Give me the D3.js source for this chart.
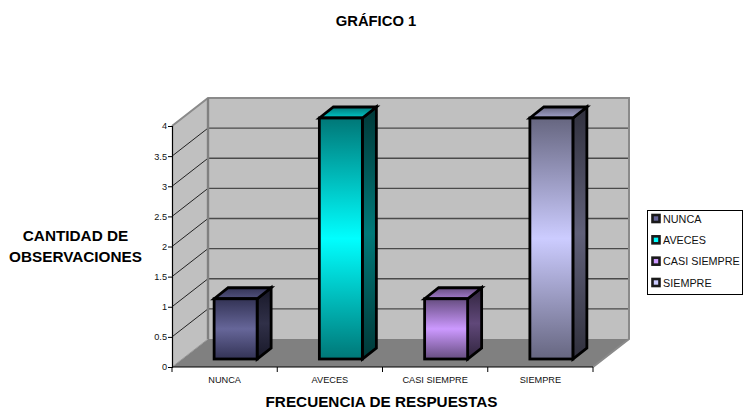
<!DOCTYPE html>
<html><head><meta charset="utf-8">
<script src="https://cdn.jsdelivr.net/npm/d3@7/dist/d3.min.js"></script>
<style>html,body{margin:0;background:#fff}svg{display:block}text{font-family:"Liberation Sans",Arial,sans-serif}</style>
</head><body><svg id="c" width="743" height="410"></svg>
<script>
const categories = ["NUNCA","AVECES","CASI SIEMPRE","SIEMPRE"];
const values = [1,4,1,4];
const yTicks = [0,0.5,1,1.5,2,2.5,3,3.5,4];
const edgeColors = ["#333355","#007777","#664d80","#666680"];
const midColors = ["#666699","#00ffff","#cc99ff","#ccccff"];

const svg = d3.select("#c");
const defs = svg.append("defs");
const x = d3.scaleBand().domain(categories).range([172,593]);
const y = d3.scaleLinear().domain([0,4]).range([367,126]);
const wallDx = 36, wallDy = -28;
const barDx = 14, barDy = -11, barOffX = 11, barOffY = -8, barW = 43;
const barY = v => y(v) + barOffY;
const [x0,x1] = x.range();
const pts = a => a.map(p=>p.join(",")).join(" ");

// walls
const g = svg.append("g");
g.append("polygon").attr("points",pts([[x0,y(0)],[x0+wallDx,y(0)+wallDy],[x1+wallDx,y(0)+wallDy],[x1,y(0)]])).attr("fill","#808080");
g.append("polygon").attr("points",pts([[x0,y(0)],[x0,y(4)],[x0+wallDx,y(4)+wallDy],[x0+wallDx,y(0)+wallDy]])).attr("fill","#c0c0c0");
g.append("rect").attr("x",x0+wallDx).attr("y",y(4)+wallDy).attr("width",x1-x0).attr("height",y(0)-y(4)).attr("fill","#c0c0c0");
yTicks.slice(1,-1).forEach(t=>{
  g.append("line").attr("x1",x0).attr("y1",y(t)).attr("x2",x0+wallDx).attr("y2",y(t)+wallDy).attr("stroke","#222").attr("stroke-width",1);
  g.append("line").attr("x1",x0+wallDx).attr("y1",y(t)+wallDy).attr("x2",x1+wallDx).attr("y2",y(t)+wallDy).attr("stroke","#4a4a4a").attr("stroke-width",1.3);
});
g.append("polyline").attr("points",pts([[x0,y(4)],[x0+wallDx,y(4)+wallDy],[x1+wallDx,y(4)+wallDy],[x1+wallDx,y(0)+wallDy],[x1,y(0)]])).attr("fill","none").attr("stroke","#8a8a8a").attr("stroke-width",2);
g.append("line").attr("x1",x0+wallDx).attr("y1",y(4)+wallDy).attr("x2",x0+wallDx).attr("y2",y(0)+wallDy).attr("stroke","#808080").attr("stroke-width",2.4);
g.append("line").attr("x1",x0).attr("y1",y(0)).attr("x2",x0+wallDx).attr("y2",y(0)+wallDy).attr("stroke","#999").attr("stroke-width",1);

// gradients
function grad(id,stops){
  const l = defs.append("linearGradient").attr("id",id).attr("x1",0).attr("y1",0).attr("x2",0).attr("y2",1);
  stops.forEach(([o,c])=>l.append("stop").attr("offset",o).attr("stop-color",c));
}
categories.forEach((c,i)=>{
  const e=edgeColors[i], m=midColors[i];
  const dark = k => d3.rgb(k).darker(2.1).formatHex();
  grad("f"+i,[[0,e],[0.5,m],[1,e]]);
  grad("s"+i,[[0,dark(e)],[0.5,dark(m)],[1,dark(e)]]);
  grad("t"+i,[[0,e],[1,d3.interpolateRgb(e,m)(0.6)]]);
});

// bars
const bars = svg.append("g").selectAll("g").data(categories).join("g");
bars.each(function(c,i){
  const b = d3.select(this), v = values[i];
  const bx = x(c)+(x.bandwidth()-barW)/2+barOffX, t = barY(v), bt = barY(0);
  const st = {stroke:"#000","stroke-width":2.8,"stroke-linejoin":"miter"};
  const side = b.append("polygon").attr("points",pts([[bx+barW,t],[bx+barW+barDx,t+barDy],[bx+barW+barDx,bt+barDy],[bx+barW,bt]])).attr("fill",`url(#s${i})`);
  const top = b.append("polygon").attr("points",pts([[bx,t],[bx+barDx,t+barDy],[bx+barW+barDx,t+barDy],[bx+barW,t]])).attr("fill",`url(#t${i})`);
  const front = b.append("rect").attr("x",bx).attr("y",t).attr("width",barW).attr("height",bt-t).attr("fill",`url(#f${i})`);
  [side,top,front].forEach(s=>Object.entries(st).forEach(([k,val])=>s.attr(k,val)));
});

// axes
const ya = svg.append("g").attr("transform",`translate(${x0},0)`).call(d3.axisLeft(y).tickValues(yTicks).tickFormat(d3.format("~g")).tickSize(4).tickPadding(1));
const xa = svg.append("g").attr("transform",`translate(0,${y(0)})`).call(d3.axisBottom(x).tickSize(0).tickPadding(9));
[ya,xa].forEach(a=>{a.selectAll("path").attr("stroke","#000").attr("stroke-width",1.2);a.selectAll("text").attr("font-size",9.2).attr("fill","#111").style("font-family",'"Liberation Sans",Arial,sans-serif');});
ya.selectAll("line").attr("stroke","#000");
xa.select("path").attr("d",`M${x0},0H${x1}`);
svg.append("g").selectAll("line").data(categories.map(c=>x(c)).concat([x1])).join("line")
  .attr("x1",d=>d).attr("x2",d=>d).attr("y1",y(0)).attr("y2",y(0)+5).attr("stroke","#000");

// titles
const bold = (s,tx,ty,fs)=>svg.append("text").attr("x",tx).attr("y",ty).attr("text-anchor","middle").attr("font-weight","bold").attr("font-size",fs).attr("fill","#000").text(s);
bold("GRÁFICO 1",376,25.5,14.8);
bold("CANTIDAD DE",75.5,240.5,15.3);
bold("OBSERVACIONES",75.5,262,15.3);
bold("FRECUENCIA DE RESPUESTAS",381.5,407,15.3);

// legend
const lg = svg.append("g");
lg.append("rect").attr("x",647.5).attr("y",210.5).attr("width",95).attr("height",84).attr("fill","#fff").attr("stroke","#000");
const ly = d3.scalePoint().domain(categories).range([218.5,282.5]);
categories.forEach((c,i)=>{
  lg.append("rect").attr("x",652.5).attr("y",ly(c)-3.5).attr("width",7).attr("height",7).attr("fill",midColors[i]).attr("stroke","#1a1a1a").attr("stroke-width",2.6);
  lg.append("text").attr("x",663).attr("y",ly(c)+4).attr("font-size",10.8).attr("fill","#111").text(c);
});
</script></body></html>
